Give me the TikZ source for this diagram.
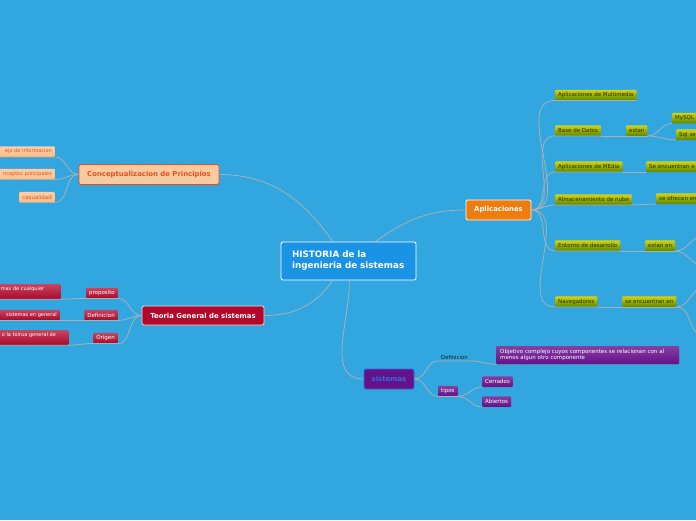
\documentclass[tikz,border=0pt]{standalone}
\usepackage{fontspec}
\setmainfont{DejaVu Sans}
\usetikzlibrary{shadows}

\definecolor{bgblue}{HTML}{32A6DE}
\definecolor{linegrey}{HTML}{A9B0B6}
\definecolor{rootblue}{HTML}{1B93E5}
\definecolor{peachfill}{HTML}{F9C9A0}
\definecolor{peachtext}{HTML}{E8501E}
\definecolor{crimson}{HTML}{B4082B}
\definecolor{orangefill}{HTML}{EF7D0D}
\definecolor{purplefill}{HTML}{66108A}
\definecolor{purpletext}{HTML}{2F6FE0}
\definecolor{olivetext}{HTML}{2B2B0A}

\tikzset{
  conn/.style={draw=linegrey, line width=0.8pt},
  shade1/.style={drop shadow={shadow xshift=0.4pt, shadow yshift=-0.9pt, opacity=0.35}},
  rootbox/.style={draw=white, line width=0.9pt, fill=rootblue, rounded corners=2pt, text=white,
    font=\fontsize{8.8}{11}\selectfont\bfseries, align=left, text width=113pt,
    minimum width=135, minimum height=38, inner xsep=11pt},
  mainbox/.style={rounded corners=1.5pt, line width=0.9pt, font=\fontsize{6.9}{8}\selectfont\bfseries,
    minimum height=20, inner sep=0pt, shade1},
  leaf/.style={rounded corners=1pt, font=\fontsize{5.5}{6.4}\selectfont, minimum height=10.5,
    inner xsep=3pt, inner ysep=0pt, shade1},
  cutleft/.style={text width=#1, align=right, font=\fontsize{5}{6}\selectfont},
  cuttop/.style={text width=#1, align=left, font=\fontsize{5}{6}\selectfont, text depth=7pt, inner ysep=2pt},
  cutright/.style={text width=#1, align=left},
  peachleaf/.style={leaf, top color=peachfill!90!white, bottom color=peachfill!85!orange, text=peachtext},
  redleaf/.style={leaf, top color=crimson!75!white, bottom color=crimson!95!black, text=white},
  greenleaf/.style={leaf, top color=olive!45!yellow!75!white, bottom color=olive!80!green!90!black, text=olivetext},
  purpleleaf/.style={leaf, top color=purplefill!80!white, bottom color=purplefill, text=white},
}

\begin{document}
\begin{tikzpicture}[x=1pt, y=-1pt]
\useasboundingbox (0,0) rectangle (696,520);
\fill[bgblue] (0,0) rectangle (696,520);
\clip (0,0) rectangle (696,520);

% centre
\node[rootbox] (root) at (348.5,261) {HISTORIA de la\\ingenieria de sistemas};

% main branches
\node[mainbox, draw=peachtext, fill=peachfill, text=peachtext, minimum width=140] (concept) at (149,174.5) {Conceptualizacion de Principios};
\node[mainbox, draw=white!85!crimson, fill=crimson, text=white, minimum width=122, minimum height=19] (teoria) at (203,315.5) {Teoria General de sistemas};
\node[mainbox, draw=white, fill=orangefill, text=white, minimum width=65] (aplic) at (498.5,210) {Aplicaciones};
\node[mainbox, draw=purpletext, fill=purplefill, text=purpletext, minimum width=50] (sist) at (389,379) {sistemas};

% Conceptualizacion
\node[peachleaf, cutleft=60pt, anchor=east] (manejo) at (55,151.5) {ejo de informacion};
\node[peachleaf, cutleft=60pt, anchor=east] (concpr) at (55,174) {nceptos principales};
\node[peachleaf, anchor=east] (casual) at (55,197) {casualidad};

% Teoria General
\node[redleaf, anchor=east] (prop) at (118,293) {proposito};
\node[redleaf, anchor=east] (tdef) at (118,315) {Definicion};
\node[redleaf, anchor=east] (orig) at (118,338) {Origen};
\node[redleaf, cuttop=57pt, anchor=north east] (propt) at (61,284) {mas de cualquier};
\node[redleaf, cutleft=66pt, anchor=east] (tdeft) at (60,315) {sistemas en general};
\node[redleaf, cuttop=64pt, anchor=north east] (origt) at (69,330) {o la toirua general de};

% Aplicaciones
\node[greenleaf, anchor=west] (multi) at (555,95) {Aplicaciones de Multimedia};
\node[greenleaf, anchor=west] (bdatos) at (555,130.5) {Base de Datos};
\node[greenleaf, anchor=west] (estan) at (626,130.5) {estan};
\node[greenleaf, cutright=30pt, anchor=west] (mysql) at (672,118) {MySQL};
\node[greenleaf, cutright=30pt, anchor=west] (sqlse) at (676,134.5) {Sql se};
\node[greenleaf, anchor=west] (media) at (555,166.5) {Aplicaciones de MEdia};
\node[greenleaf, cutright=60pt, anchor=west] (encu) at (646,166.5) {Se encuentran e};
\node[greenleaf, anchor=west] (nube) at (555,199.5) {Almacenamiento de nube};
\node[greenleaf, cutright=50pt, anchor=west] (ofre) at (656,198.5) {se ofrecen en};
\node[greenleaf, anchor=west] (entorno) at (555,245.5) {Entorno de desarrollo};
\node[greenleaf, anchor=west] (estanen) at (645,245.5) {estan en};
\node[greenleaf, anchor=west] (naveg) at (555,301.5) {Navegadores};
\node[greenleaf, anchor=west] (encuen) at (622,301.5) {se encuentran en};
\coordinate (ee1) at (704,236);
\coordinate (ee2) at (704,266);
\coordinate (en1) at (704,288);
\coordinate (en2) at (704,336);

% sistemas
\node[font=\fontsize{5.3}{6.4}\selectfont, text=black!80!bgblue, inner xsep=3pt, inner ysep=1pt, anchor=south west] (sdef) at (438,361) {Definicion};
\node[purpleleaf, align=left, anchor=west, text width=175pt, minimum height=18, inner xsep=4pt] (objet) at (496,355) {Objetivo complejo cuyos componentes se relacionan con al\\menos algun otro componente};
\node[purpleleaf, anchor=west] (tipos) at (438,391) {tipos};
\node[purpleleaf, anchor=west] (cerr) at (482,381.5) {Cerrados};
\node[purpleleaf, anchor=west] (abie) at (482,401.5) {Abiertos};

% connectors from the centre
\draw[conn] (root.129) to[out=125,in=0] (concept.east);
\draw[conn] (root.36) to[out=35,in=180] (aplic.west);
\draw[conn] (root.231) to[out=235,in=0] (teoria.east);
\draw[conn] (root.272) to[out=-88,in=180] (sist.west);

% Conceptualizacion connectors
\foreach \c in {manejo,concpr,casual}
  \draw[conn] (concept.west) to[out=180,in=0] (\c.south east) -- (\c.south west);

% Teoria connectors
\draw[conn] (teoria.west) to[out=180,in=0] (prop.south east) -- (prop.south west) to[out=180,in=0] (propt.south east) -- (propt.south west);
\draw[conn] (teoria.west) to[out=180,in=0] (tdef.south east) -- (tdef.south west) to[out=180,in=0] (tdeft.south east) -- (tdeft.south west);
\draw[conn] (teoria.west) to[out=180,in=0] (orig.south east) -- (orig.south west) to[out=180,in=0] (origt.south east) -- (origt.south west);

% Aplicaciones connectors
\foreach \c in {multi,bdatos,media,nube,entorno,naveg}
  \draw[conn] (aplic.east) to[out=0,in=180] (\c.south west) -- (\c.south east);
\draw[conn] (bdatos.south east) -- (estan.south west) -- (estan.south east);
\draw[conn] (estan.south east) to[out=0,in=180] (mysql.south west);
\draw[conn] (estan.south east) to[out=0,in=180] (sqlse.south west);
\draw[conn] (media.south east) -- (encu.south west);
\draw[conn] (nube.south east) -- (ofre.south west);
\draw[conn] (entorno.south east) -- (estanen.south west) -- (estanen.south east);
\draw[conn] (estanen.south east) to[out=0,in=180] (ee1);
\draw[conn] (estanen.south east) to[out=0,in=180] (ee2);
\draw[conn] (naveg.south east) -- (encuen.south west) -- (encuen.south east);
\draw[conn] (encuen.south east) to[out=0,in=180] (en1);
\draw[conn] (encuen.south east) to[out=0,in=180] (en2);

% sistemas connectors
\draw[conn] (sist.east) to[out=0,in=180] (sdef.south west) -- (sdef.south east) to[out=0,in=180] (objet.south west);
\draw[conn] (sist.east) to[out=0,in=180] (tipos.south west) -- (tipos.south east);
\draw[conn] (tipos.south east) to[out=0,in=180] (cerr.south west);
\draw[conn] (tipos.south east) to[out=0,in=180] (abie.south west);
\end{tikzpicture}
\end{document}
